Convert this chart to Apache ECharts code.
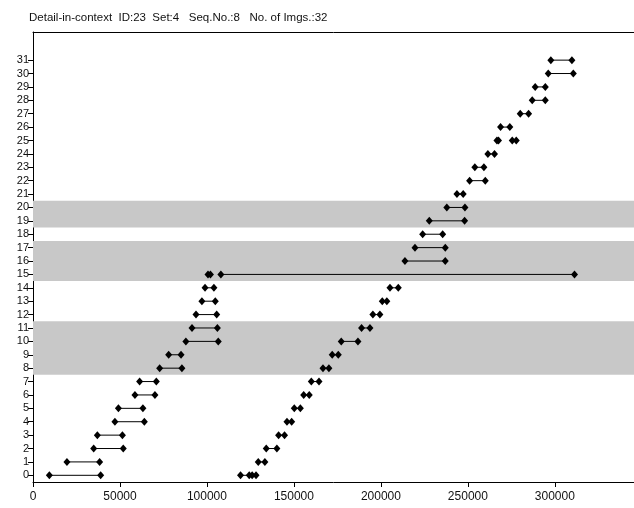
<!DOCTYPE html>
<html>
<head>
<meta charset="utf-8">
<script src="https://cdn.jsdelivr.net/npm/echarts@6/dist/echarts.min.js"></script>
<style>
html,body{margin:0;padding:0;background:#fff;}
#c{width:634px;height:508px;}
</style>
</head>
<body>
<div id="c"></div>
<script>
// Title
const titleText = 'Detail-in-context  ID:23  Set:4   Seq.No.:8   No. of Imgs.:32';

// Segments: row index, start value, end value
const segRow = [
  0,1,2,3,4,5,6,7,8,9,10,11,12,13,14,15,
  0,0,1,2,3,4,5,6,7,8,9,10,11,12,13,14,
  15,16,17,18,19,20,21,22,23,24,25,25,26,27,28,29,30,31
];
const segStart = [
  9400,19500,34900,37000,47100,49100,58600,61300,72800,78000,87900,91400,93700,97100,98900,100600,
  119300,126000,129500,134100,141200,146000,150200,155600,160000,166700,172000,177200,188900,195400,200800,205200,
  108000,213800,219600,224000,227800,237900,243700,251000,254000,261500,266700,275500,268800,280100,287000,288700,296200,297700
];
const segEnd = [
  38900,38300,51900,51400,64000,63200,70100,70900,85600,85100,106500,106000,105600,104800,104000,102000,
  124300,128200,133300,140200,144600,148700,153700,158800,164400,170100,175500,186800,193700,199400,203400,210000,
  311300,237000,237000,235500,248100,248300,247300,260000,259200,265300,267600,277800,274100,284900,294500,294500,310600,309800
];

// Shaded row bands
const bandStart = [7.5, 14.5, 18.5];
const bandEnd   = [11.5, 17.5, 20.5];

// Tick labels
const xTicks = [0, 50000, 100000, 150000, 200000, 250000, 300000];
const yTicks = [0,1,2,3,4,5,6,7,8,9,10,11,12,13,14,15,16,17,18,19,20,21,22,23,24,25,26,27,28,29,30,31];

const chart = echarts.init(document.getElementById('c'), null, {renderer:'canvas'});

const series = [];
series.push({
  type: 'line',
  data: [],
  silent: true,
  z: 0,
  markArea: {
    silent: true,
    itemStyle: {color: '#c8c8c8', opacity: 1},
    data: bandStart.map((b, i) => [{yAxis: b}, {yAxis: bandEnd[i]}])
  }
});
for (let i = 0; i < segRow.length; i++) {
  series.push({
    type: 'line',
    data: [[segStart[i], segRow[i]], [segEnd[i], segRow[i]]],
    symbol: 'diamond',
    symbolSize: [7, 8],
    showSymbol: true,
    animation: false,
    silent: true,
    z: 3,
    lineStyle: {color: '#000', width: 1},
    itemStyle: {color: '#000', borderWidth: 0}
  });
}

const font = 'Liberation Sans, Arial, sans-serif';
chart.setOption({
  animation: false,
  backgroundColor: '#fff',
  title: {
    text: titleText,
    left: 24,
    top: 7,
    textStyle: {fontFamily: font, fontSize: 11.5, fontWeight: 'normal', color: '#111'}
  },
  grid: {left: 33, right: 0, top: 32, bottom: 26, containLabel: false},
  xAxis: [{
    type: 'value',
    min: 0,
    max: 345500,
    interval: 50000,
    splitLine: {show: false},
    axisLine: {show: true, onZero: false, lineStyle: {color: '#000', width: 1}},
    axisTick: {show: true, length: 5, customValues: xTicks, lineStyle: {color: '#000'}},
    axisLabel: {customValues: xTicks, margin: 9, fontFamily: font, fontSize: 12, color: '#111',
      formatter: v => String(v)}
  }, {
    type: 'value',
    position: 'top',
    min: 0,
    max: 345500,
    splitLine: {show: false},
    axisLine: {show: true, onZero: false, lineStyle: {color: '#000', width: 1}},
    axisTick: {show: false},
    axisLabel: {show: false}
  }],
  yAxis: {
    type: 'value',
    min: -0.5,
    max: 33.1,
    interval: 1,
    splitLine: {show: false},
    axisLine: {show: true, onZero: false, lineStyle: {color: '#000', width: 1}},
    axisTick: {show: true, length: 5, customValues: yTicks, lineStyle: {color: '#000'}},
    axisLabel: {customValues: yTicks, margin: 4, fontFamily: font, fontSize: 11, color: '#111'}
  },
  series: series
});
</script>
</body>
</html>
